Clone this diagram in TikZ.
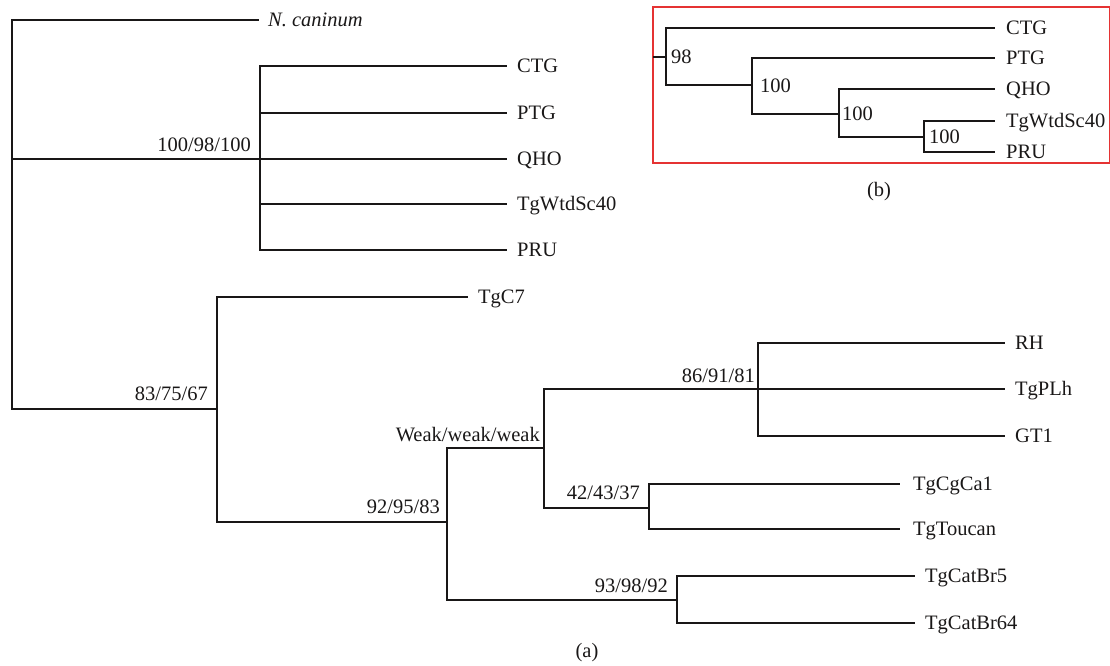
\documentclass[tikz,border=0pt]{standalone}
\usepackage{fontspec}
\setmainfont{Liberation Serif}
\usetikzlibrary{positioning}
\definecolor{boxred}{rgb}{0.90,0.20,0.20}
\definecolor{treeline}{rgb}{0.10,0.09,0.09}
\begin{document}
\begin{tikzpicture}[x=1pt,y=-1pt,
  font=\fontsize{20.5}{24}\selectfont,
  branch/.style={draw=treeline,line width=1.3pt},
  leaf/.style={inner sep=0pt,text height=13.6pt,text depth=0pt,anchor=west,text=treeline},
  bootlab/.style={inner sep=0pt,anchor=base east,text=treeline},
  insetlab/.style={inner sep=0pt,text height=13.6pt,text depth=0pt,anchor=west,text=treeline},
  panel/.style={inner sep=0pt,text=treeline},
  framebox/.style={draw=boxred,line width=1.2pt}]
\useasboundingbox (0,0) rectangle (1110,665);

% ---------- main tree (a) ----------
\coordinate (R) at (12,159);
\coordinate (G1) at (260,159);
\coordinate (L1) at (217,409);
\coordinate (N92) at (447,522);
\coordinate (NW) at (544,448);
\coordinate (N86) at (758,389);
\coordinate (N42) at (649,508);
\coordinate (N93) at (677,600);

\coordinate (e_nc) at (259,20);
\coordinate (e_ctg) at (507,66);
\coordinate (e_ptg) at (507,113);
\coordinate (e_qho) at (507,159);
\coordinate (e_wtd) at (507,204);
\coordinate (e_pru) at (507,250);
\coordinate (e_c7) at (468,297);
\coordinate (e_rh) at (1005,343);
\coordinate (e_plh) at (1005,389);
\coordinate (e_gt1) at (1005,436);
\coordinate (e_cg) at (900,484);
\coordinate (e_tou) at (900,529);
\coordinate (e_cb5) at (915,576);
\coordinate (e_cb64) at (915,623);

\draw[branch] (R) |- (e_nc);
\draw[branch] (R) -- (G1);
\draw[branch] (R) |- (L1);
\foreach \e in {e_ctg,e_ptg,e_qho,e_wtd,e_pru} \draw[branch] (G1) |- (\e);
\draw[branch] (L1) |- (e_c7);
\draw[branch] (L1) |- (N92);
\draw[branch] (N92) |- (NW);
\draw[branch] (N92) |- (N93);
\draw[branch] (NW) |- (N86);
\draw[branch] (NW) |- (N42);
\foreach \e in {e_rh,e_plh,e_gt1} \draw[branch] (N86) |- (\e);
\foreach \e in {e_cg,e_tou} \draw[branch] (N42) |- (\e);
\foreach \e in {e_cb5,e_cb64} \draw[branch] (N93) |- (\e);

\node[leaf,right=9pt of e_nc] (nc) {\itshape N. caninum};
\node[leaf,right=10pt of e_ctg] (ctg) {CTG};
\node[leaf,right=10pt of e_ptg] (ptg) {PTG};
\node[leaf,right=10pt of e_qho] (qho) {QHO};
\node[leaf,right=10pt of e_wtd] (wtd) {TgWtdSc40};
\node[leaf,right=10pt of e_pru] (pru) {PRU};
\node[leaf,right=10pt of e_c7] (c7) {TgC7};
\node[leaf,right=10pt of e_rh] (rh) {RH};
\node[leaf,right=10pt of e_plh] (plh) {TgPLh};
\node[leaf,right=10pt of e_gt1] (gt1) {GT1};
\node[leaf,right=13pt of e_cg] (cg) {TgCgCa1};
\node[leaf,right=13pt of e_tou] (tou) {TgToucan};
\node[leaf,right=10pt of e_cb5] (cb5) {TgCatBr5};
\node[leaf,right=10pt of e_cb64] (cb64) {TgCatBr64};

\node[bootlab] (bG1) at (251,151) {100/98/100};
\node[bootlab] (bL1) at (208,400) {83/75/67};
\node[bootlab] (b92) at (440,513) {92/95/83};
\node[bootlab] (bW) at (540,441) {Weak/weak/weak};
\node[bootlab] (b86) at (755,382) {86/91/81};
\node[bootlab] (b42) at (640,499) {42/43/37};
\node[bootlab] (b93) at (668,592) {93/98/92};

\node[panel] (pa) at (587,653) {(a)};

% ---------- inset (b) ----------
\draw[framebox] (653,7) rectangle (1109.4,163);
\coordinate (b0) at (653,57);
\coordinate (bR) at (666,57);
\coordinate (bN2) at (752,85);
\coordinate (bN3) at (839,114);
\coordinate (bN4) at (924,137);
\coordinate (f_ctg) at (995,28);
\coordinate (f_ptg) at (995,58);
\coordinate (f_qho) at (995,89);
\coordinate (f_wtd) at (995,121);
\coordinate (f_pru) at (995,152);

\draw[branch] (b0) -- (bR);
\draw[branch] (bR) |- (f_ctg);
\draw[branch] (bR) |- (bN2);
\draw[branch] (bN2) |- (f_ptg);
\draw[branch] (bN2) |- (bN3);
\draw[branch] (bN3) |- (f_qho);
\draw[branch] (bN3) |- (bN4);
\draw[branch] (bN4) |- (f_wtd);
\draw[branch] (bN4) |- (f_pru);

\node[leaf,right=11pt of f_ctg] (ictg) {CTG};
\node[leaf,right=11pt of f_ptg] (iptg) {PTG};
\node[leaf,right=11pt of f_qho] (iqho) {QHO};
\node[leaf,right=11pt of f_wtd] (iwtd) {TgWtdSc40};
\node[leaf,right=11pt of f_pru] (ipru) {PRU};

\node[insetlab] (i98) at (671,57) {98};
\node[insetlab] (i100a) at (760,86) {100};
\node[insetlab] (i100b) at (842,114) {100};
\node[insetlab] (i100c) at (929,137) {100};

\node[panel] (pb) at (879,192) {(b)};
\end{tikzpicture}
\end{document}
